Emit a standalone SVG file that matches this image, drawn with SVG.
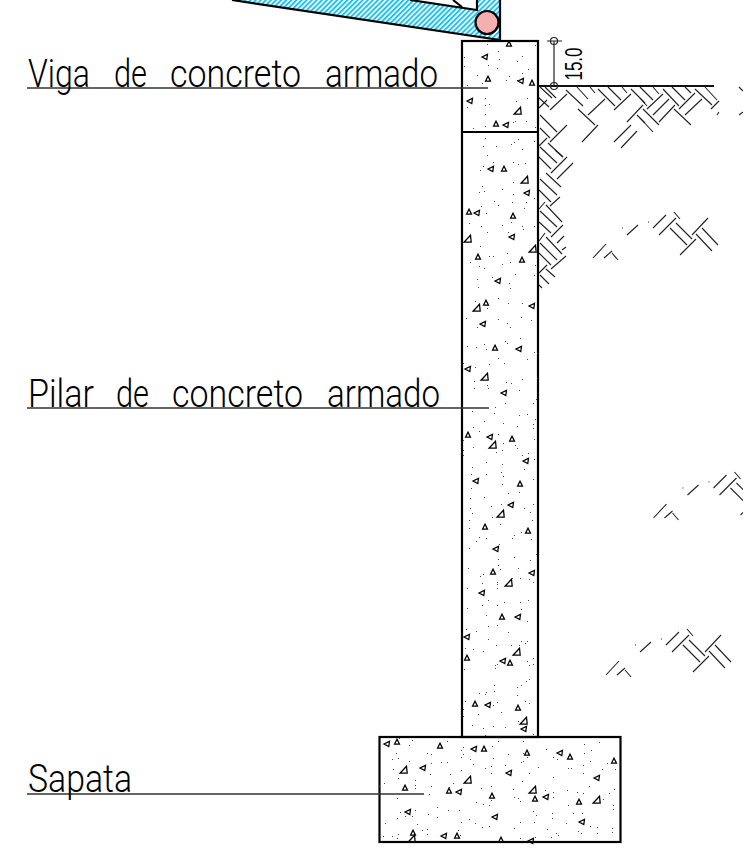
<svg xmlns="http://www.w3.org/2000/svg" width="743" height="865" viewBox="0 0 743 865">
<style>
.l{fill:none;stroke:#000;stroke-width:2.2}
.h{fill:none;stroke:#222;stroke-width:1.1}
.t{fill:none;stroke:#000;stroke-width:1.25}
.d{fill:none;stroke:#444;stroke-width:1}
.ld{fill:none;stroke:#333;stroke-width:1.3}
.lb{font-family:"Roboto","Liberation Sans",sans-serif;font-weight:300;font-size:38px;fill:#000}
</style>
<defs>
<pattern id="bh" width="3.600" height="4" patternUnits="userSpaceOnUse" patternTransform="rotate(45)">
<rect width="3.600" height="4" fill="#fff"/><rect width="1.900" height="4" fill="#15c3f5"/>
</pattern>
<path id="a" class="t" d="M-2.500 2.200L0-2.800L2.500 2.200Z"/>
<path id="c" class="t" d="M-4 3.200L2.500-3.800L3.200 3.200Z"/>
<path id="b" class="t" d="M-3 0L2.500-2.600L1.800 2.600Z"/>
<g id="patch" class="h">
<path d="M606 244L593 258M612 251L604 258M612 253L618 260M638 225L627 235M622 228h1M648 222h1M666 215L653 228M676 218L659 235M674 212L680 219M676 223L692 239M670 228L687 245M708 218L692 235M696 239L680 255M702 228L718 245M696 234L712 251"/>
</g>
</defs>
<g id="soil" class="h">
<path d="M540 87L552 98M545 87L556 98M538 97L549 107M566 90L583 106M577 87L588 99M590 87L595 93M598 89L615 106M608 87L621 100M622 87L627 93M631 89L645 103M578 109L595 125M637 115L645 123M540 115L557 132M540 128L550 138M540 147L557 163M548 143L563 157M567 94L550 110M605 99L588 115M631 94L614 110M643 105L627 122M567 125L550 142M598 125L582 142M631 125L614 142M637 131L621 148M547 100L539 108M547 138L539 146"/>
<path d="M640 87L653 100M653 87L659 94M640 98L647 106M663 89L679 106M672 87L685 100M685 87L691 93M695 89L712 105M705 87L717 100M643 109L659 125M674 109L691 125M640 118L653 132M739 87L743 91M663 94L647 109M669 99L653 115M675 105L659 122M695 93L679 109M702 99L685 115M719 101L711 109M719 112L717 115M743 112L739 115"/>
<path d="M555 150L563 157M539 157L551 169M546 173L561 187M540 179L557 195M539 190L551 202M546 205L562 222M540 211L557 227M539 222L551 233M546 237L562 254M540 243L557 260M539 253L551 265M546 269L555 277M540 275L549 284M539 285L542 288M567 157L551 173M573 163L557 179M560 197L550 206M545 202L539 209M563 225L551 237M564 236L557 243M566 247L562 250M566 256L551 269M547 265L539 273M545 233L539 241"/>
<use href="#patch"/>
<use href="#patch" x="60.500" y="260"/>
<use href="#patch" x="13" y="417"/>
</g>
<g id="wedge">
<path d="M232 0L410 0L477 10L477 0L500 0L500 40Z" fill="url(#bh)"/>
<path class="l" d="M232 0L500 40V0M410 0L477 10V0M453 0L462 7"/>
<circle cx="487" cy="22.500" r="11.500" fill="#f4b0b0" stroke="#000" stroke-width="2.200"/>
</g>
<g id="column">
<rect class="l" x="462" y="41" width="76" height="696"/>
<path class="l" d="M462 132H538"/>
<path class="d" transform="translate(0 .5)" d="M487 44h1M498 51h1M499 59h1M488 65h1M464 57h1M464 66h1M497 68h1M517 61h1M522 56h1M528 69h1M522 73h1M477 75h1M482 83h1M509 76h1M506 80h1M467 85h1M485 98h1M489 104h1M485 105h1M467 107h1M516 101h1M527 98h1M485 114h1M485 126h1M513 122h1M515 121h1M526 121h1M535 127h1M473 128h1M535 45h1M517 80h1M485 138h1M483 146h1M496 146h1M511 144h1M514 142h1M518 139h1M534 141h1M522 149h1M487 155h1M483 166h1M493 162h1M480 170h1M513 162h1M518 164h1M525 163h1M513 182h1M482 186h1M479 192h1M484 191h1M502 189h1M513 194h1M534 198h1M494 201h1M498 205h1M512 202h1M526 202h1M524 208h1M481 206h1M486 213h1M469 223h1M481 226h1M502 225h1M511 222h1M522 226h1M523 229h1M534 226h1M487 232h1M508 232h1M480 246h1M507 253h1M489 256h1M493 256h1M470 262h1M502 264h1M510 262h1M479 266h1M484 268h1M535 265h1M515 274h1M492 277h1M477 279h1M509 283h1M534 275h1M478 287h1M510 288h1M498 298h1M508 303h1M522 303h1M475 301h1M487 308h1M521 317h1M466 318h1M498 319h1M531 320h1M507 323h1M510 327h1M477 327h1M520 338h1M505 341h1M507 343h1M467 346h1M476 347h1M484 344h1M486 349h1M534 352h1M537 353h1M498 358h1M527 359h1M504 363h1M489 364h1M475 367h1M463 363h1M474 381h1M522 379h1M506 382h1M511 383h1M487 385h1M488 388h1M474 388h1M519 390h1M537 378h1M505 403h1M536 399h1M533 403h1M495 407h1M494 413h1M472 411h1M519 415h1M527 414h1M535 419h1M484 421h1M503 423h1M533 424h1M517 426h1M473 427h1M533 428h1M479 431h1M498 434h1M534 439h1M463 440h1M473 447h1M503 443h1M515 445h1M517 448h1M502 450h1M496 452h1M463 450h1M463 455h1M528 453h1M522 455h1M534 459h1M486 462h1M502 464h1M524 469h1M472 467h1M471 474h1M501 472h1M503 476h1M486 474h1M533 479h1M471 488h1M502 484h1M508 493h1M519 492h1M470 498h1M484 497h1M491 506h1M501 504h1M533 504h1M470 508h1M524 508h1M472 513h1M492 517h1M530 512h1M469 520h1M532 520h1M500 524h1M469 528h1M479 537h1M476 541h1M486 538h1M514 535h1M512 538h1M521 532h1M531 539h1M499 544h1M469 548h1M536 554h1M498 559h1M514 557h1M530 560h1M498 565h1M500 569h1M518 568h1M468 568h1M480 576h1M483 574h1M512 578h1M520 578h1M529 579h1M497 582h1M497 584h1M497 588h1M482 583h1M533 582h1M467 588h1M488 600h1M504 602h1M520 602h1M528 600h1M482 605h1M497 605h1M467 608h1M521 609h1M486 615h1M527 621h1M497 625h1M488 626h1M466 629h1M476 631h1M508 632h1M488 639h1M521 641h1M527 641h1M496 645h1M511 645h1M519 645h1M525 643h1M465 648h1M473 649h1M483 651h1M533 658h1M527 661h1M529 665h1M533 664h1M497 664h1M495 665h1M495 668h1M464 669h1M529 679h1M526 681h1M521 685h1M494 685h1M517 687h1M494 691h1M486 692h1M479 693h1M485 694h1M517 695h1M525 701h1M465 701h1M529 703h1M497 702h1M493 705h1M463 709h1M501 712h1M478 714h1M463 716h1M518 721h1M472 725h1M493 726h1M505 727h1M483 728h1M533 734h1M485 735h1"/>
<use href="#b" x="485" y="57"/><use href="#a" x="488" y="79"/><use href="#b" x="521" y="81"/><use href="#a" x="532" y="83"/><use href="#b" x="470" y="101"/><use href="#c" x="518" y="111"/><use href="#a" x="496" y="124"/><use href="#b" x="506" y="125"/><use href="#a" x="509" y="44"/>
<use href="#b" x="491" y="169"/><use href="#a" x="504" y="169"/><use href="#c" x="525" y="180"/><use href="#b" x="527" y="193"/><use href="#a" x="469" y="212"/><use href="#b" x="477" y="213"/><use href="#a" x="513" y="216"/><use href="#c" x="468" y="239"/><use href="#b" x="512" y="237"/><use href="#c" x="533" y="249"/><use href="#a" x="478" y="257"/><use href="#a" x="522" y="260"/><use href="#b" x="498" y="281"/><use href="#c" x="477" y="308"/><use href="#a" x="486" y="303"/><use href="#b" x="532" y="306"/><use href="#b" x="483" y="324"/>
<use href="#a" x="495" y="348"/><use href="#b" x="519" y="349"/><use href="#b" x="468" y="369"/><use href="#c" x="485" y="377"/><use href="#b" x="504" y="393"/><use href="#a" x="468" y="435"/><use href="#b" x="490" y="437"/><use href="#a" x="512" y="439"/><use href="#c" x="493" y="445"/><use href="#b" x="526" y="461"/><use href="#b" x="476" y="481"/><use href="#a" x="520" y="484"/><use href="#b" x="511" y="505"/><use href="#c" x="501" y="514"/><use href="#a" x="485" y="527"/>
<use href="#a" x="528" y="531"/><use href="#b" x="496" y="549"/><use href="#a" x="493" y="572"/><use href="#b" x="532" y="573"/><use href="#c" x="509" y="583"/><use href="#b" x="482" y="593"/><use href="#a" x="502" y="617"/><use href="#b" x="518" y="617"/><use href="#b" x="467" y="637"/><use href="#c" x="517" y="652"/><use href="#a" x="467" y="658"/><use href="#b" x="503" y="661"/><use href="#a" x="510" y="663"/><use href="#a" x="475" y="704"/><use href="#b" x="488" y="705"/><use href="#a" x="518" y="708"/><use href="#c" x="524" y="721"/><use href="#b" x="524" y="729"/>
</g>
<g id="footing">
<rect class="l" x="379.500" y="737" width="241" height="105"/>
<path class="d" transform="translate(0 .5)" d="M399 738h1M412 740h1M447 741h1M409 745h1M463 747h1M498 741h1M492 746h1M523 741h1M427 753h1M431 754h1M461 750h1M463 754h1M396 753h1M398 758h1M392 759h1M409 761h1M461 757h1M470 759h1M441 762h1M447 762h1M431 763h1M508 754h1M493 758h1M523 753h1M527 757h1M523 761h1M521 762h1M546 749h1M553 757h1M557 759h1M584 744h1M599 742h1M591 750h1M584 753h1M590 761h1M607 763h1M583 765h1M473 764h1M491 766h1M485 768h1M505 765h1M538 767h1M568 768h1M571 768h1M393 769h1M461 770h1M615 769h1M602 769h1M430 774h1M450 774h1M491 773h1M529 773h1M583 773h1M398 778h1M415 780h1M453 783h1M522 781h1M553 777h1M384 783h1M589 786h1M449 787h1M431 786h1M415 785h1M415 788h1M491 786h1M481 788h1M379 786h1M513 789h1M545 790h1M553 792h1M567 790h1M577 792h1M583 793h1M614 789h1M609 793h1M429 794h1M397 798h1M476 802h1M491 800h1M483 804h1M489 805h1M514 797h1M518 798h1M520 801h1M553 797h1M603 799h1M568 805h1M613 805h1M613 809h1M437 807h1M448 810h1M459 810h1M400 812h1M415 810h1M405 816h1M412 816h1M397 818h1M428 814h1M437 817h1M469 819h1M533 811h1M536 815h1M552 813h1M552 818h1M573 813h1M582 813h1M385 823h1M417 824h1M461 822h1M475 823h1M482 827h1M489 826h1M520 822h1M534 822h1M566 823h1M590 826h1M597 827h1M612 828h1M458 830h1M422 830h1M427 829h1M514 828h1M547 829h1M578 831h1M597 833h1M612 832h1M383 836h1M392 836h1M398 834h1M427 834h1M397 838h1M460 835h1M556 833h1M558 835h1M581 833h1M551 837h1M535 837h1M520 838h1"/>
<use href="#b" x="387" y="744"/><use href="#a" x="397" y="742"/><use href="#a" x="440" y="746"/><use href="#b" x="474" y="749"/><use href="#a" x="484" y="749"/><use href="#a" x="527" y="753"/><use href="#b" x="560" y="753"/><use href="#a" x="570" y="757"/><use href="#a" x="614" y="761"/><use href="#c" x="404" y="770"/><use href="#b" x="423" y="768"/><use href="#b" x="509" y="773"/><use href="#c" x="468" y="780"/><use href="#b" x="597" y="778"/><use href="#a" x="405" y="788"/><use href="#a" x="449" y="791"/><use href="#b" x="459" y="792"/><use href="#a" x="492" y="796"/><use href="#c" x="533" y="790"/><use href="#a" x="535" y="799"/><use href="#b" x="546" y="797"/><use href="#a" x="579" y="802"/><use href="#c" x="597" y="800"/><use href="#b" x="408" y="812"/><use href="#b" x="495" y="817"/><use href="#b" x="582" y="822"/><use href="#a" x="413" y="833"/><use href="#c" x="412" y="839"/><use href="#b" x="444" y="836"/><use href="#a" x="457" y="836"/><use href="#a" x="501" y="840"/><use href="#b" x="531" y="841"/>
</g>
<g id="ground"><path d="M538 86H714" fill="none" stroke="#111" stroke-width="2"/></g>
<g id="dimension">
<path fill="none" stroke="#222" stroke-width="1.2" d="M547 41H562M554 41V86"/>
<circle cx="554" cy="41" r="3.500" fill="none" stroke="#222" stroke-width="1.2"/>
<circle cx="554" cy="86" r="3.500" fill="none" stroke="#222" stroke-width="1.2"/>
<text transform="translate(581.500 80.500) rotate(-90)" font-family="Liberation Sans, sans-serif" font-size="23" textLength="33" lengthAdjust="spacingAndGlyphs">15.0</text>
</g>
<g id="leaders">
<path class="ld" d="M27 88H488M27 408H489M27 794H424"/>
</g>
<g id="labels">
<text class="lb" y="87"><tspan x="28" textLength="62" lengthAdjust="spacingAndGlyphs">Viga</tspan> <tspan x="114" textLength="33" lengthAdjust="spacingAndGlyphs">de</tspan> <tspan x="170" textLength="131" lengthAdjust="spacingAndGlyphs">concreto</tspan> <tspan x="325" textLength="113" lengthAdjust="spacingAndGlyphs">armado</tspan></text>
<text class="lb" y="407"><tspan x="28" textLength="66" lengthAdjust="spacingAndGlyphs">Pilar</tspan> <tspan x="116" textLength="33" lengthAdjust="spacingAndGlyphs">de</tspan> <tspan x="172" textLength="131" lengthAdjust="spacingAndGlyphs">concreto</tspan> <tspan x="327" textLength="113" lengthAdjust="spacingAndGlyphs">armado</tspan></text>
<text class="lb" x="28" y="792" textLength="104" lengthAdjust="spacingAndGlyphs">Sapata</text>
</g>
</svg>
